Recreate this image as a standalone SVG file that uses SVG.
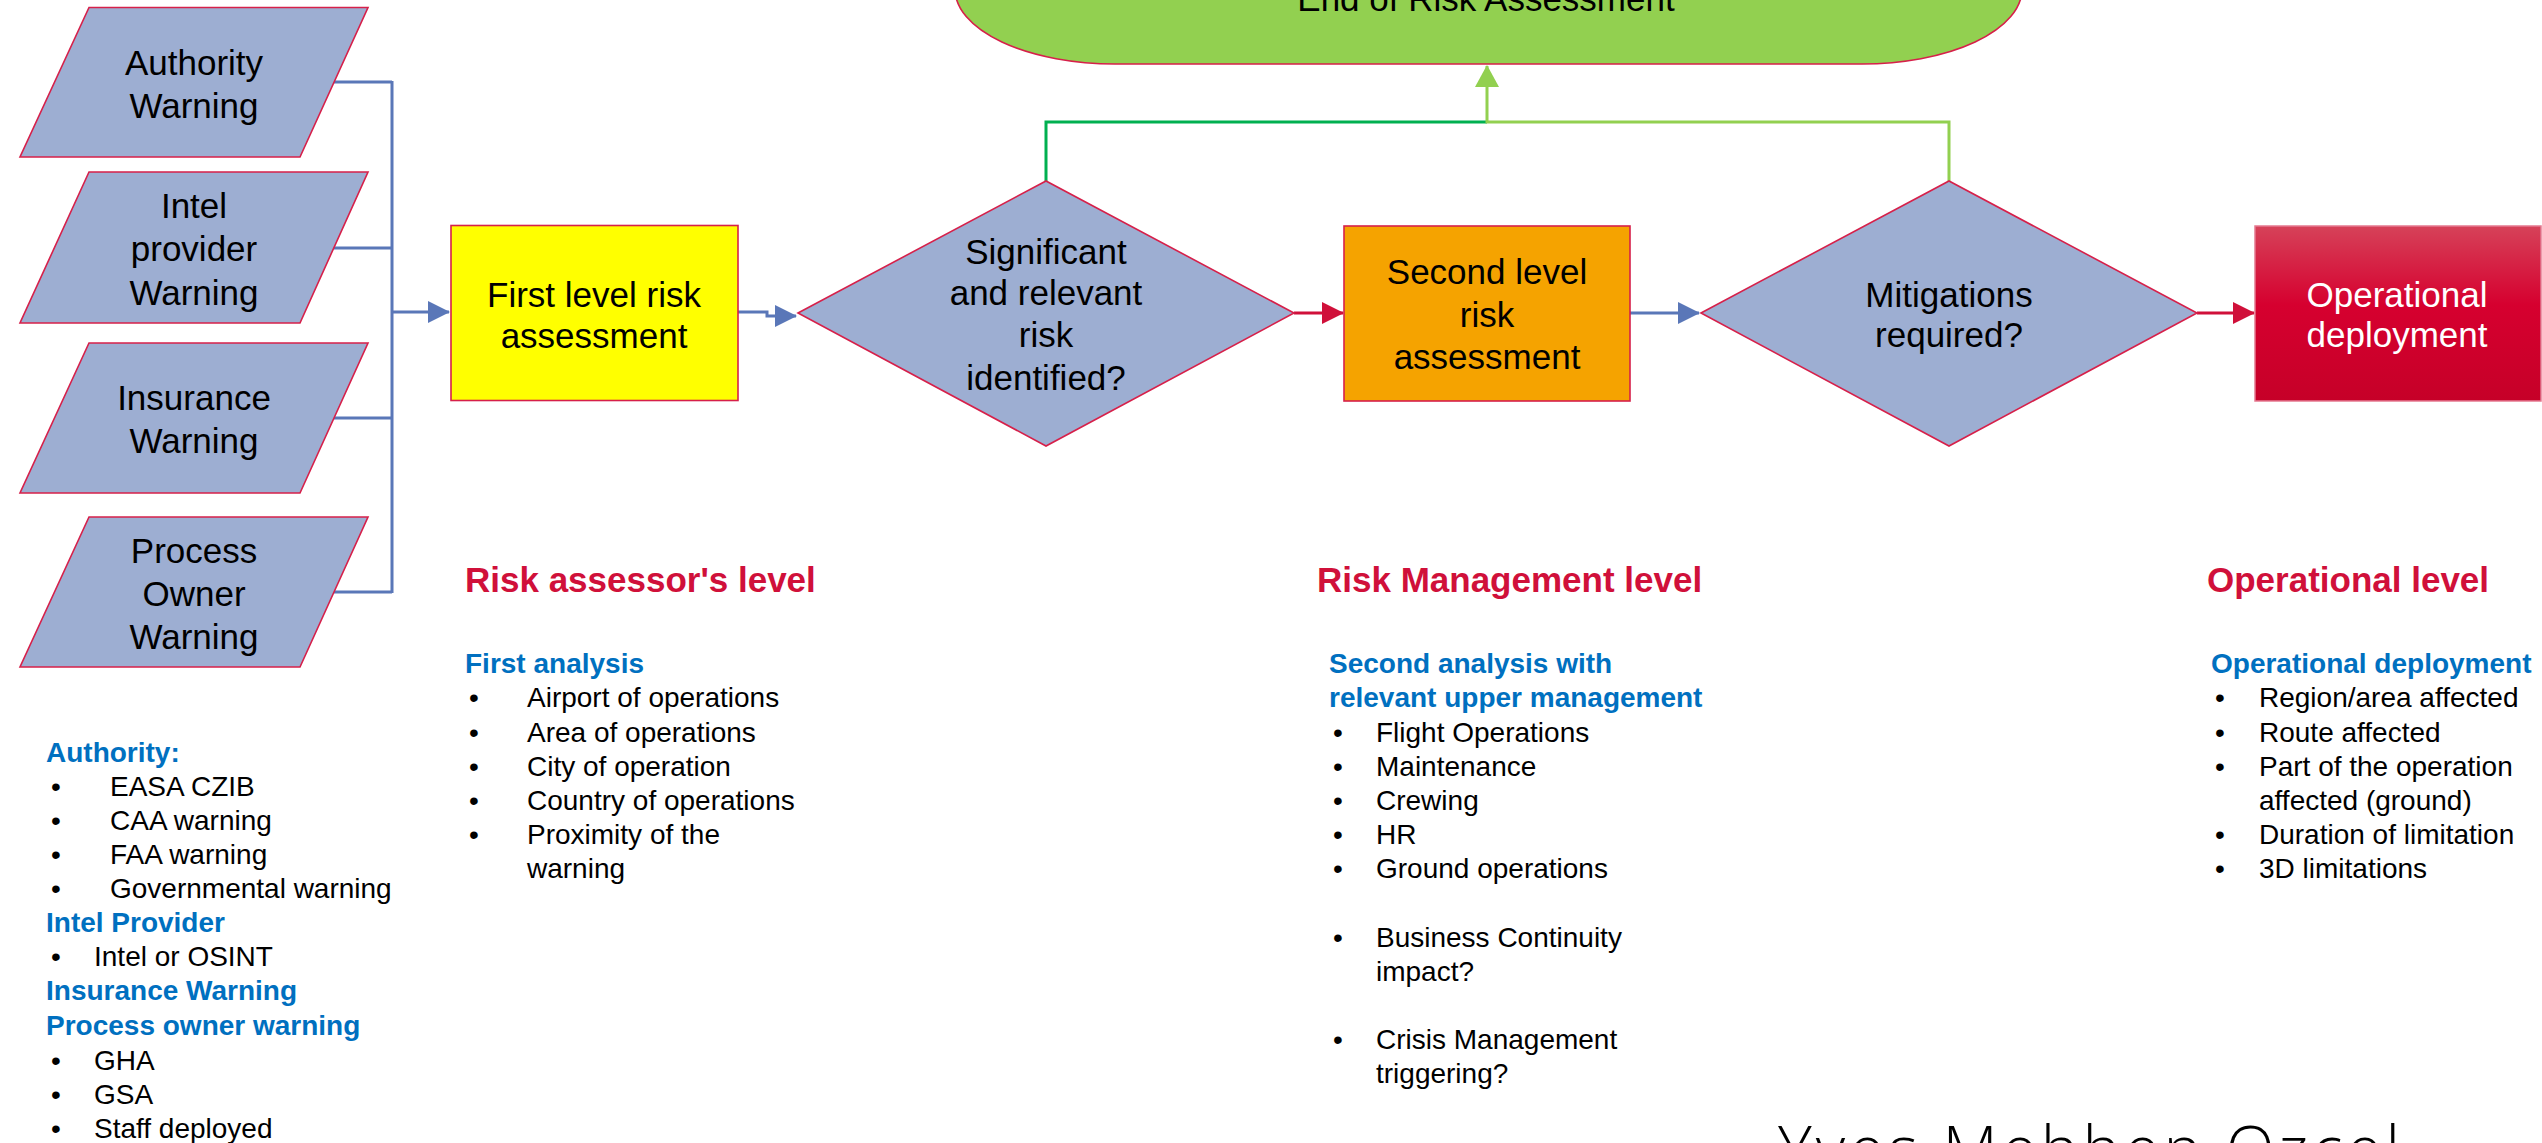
<svg xmlns="http://www.w3.org/2000/svg" width="2542" height="1143" viewBox="0 0 2542 1143">
<defs>
<style>
.node{stroke:#D6204A;stroke-width:1.6}
.para{fill:#9DAED2}
.nt{font-family:"Liberation Sans",Arial,sans-serif;font-size:35px;fill:#000;text-anchor:middle}
.wt{fill:#fff}
.hd{font-family:"Liberation Sans",Arial,sans-serif;font-size:35px;font-weight:bold;fill:#D0103A}
.sb{font-family:"Liberation Sans",Arial,sans-serif;font-size:28px;font-weight:bold;fill:#0070C0}
.li{font-family:"Liberation Sans",Arial,sans-serif;font-size:28px;fill:#000}
.cb{fill:none;stroke:#5A77B8;stroke-width:3}
.cr{fill:none;stroke:#D0103A;stroke-width:3}
.cg{fill:none;stroke:#00B050;stroke-width:3}
.cl{fill:none;stroke:#92D050;stroke-width:3}
</style>
<marker id="ab" markerUnits="userSpaceOnUse" markerWidth="22" markerHeight="22" refX="21" refY="11" orient="auto"><path d="M0,0 L22,11 L0,22 Z" fill="#5A77B8"/></marker>
<marker id="ar" markerUnits="userSpaceOnUse" markerWidth="22" markerHeight="22" refX="21" refY="11" orient="auto"><path d="M0,0 L22,11 L0,22 Z" fill="#D0103A"/></marker>
<marker id="ag" markerUnits="userSpaceOnUse" markerWidth="22" markerHeight="24" refX="21" refY="12" orient="auto"><path d="M0,0 L22,12 L0,24 Z" fill="#92D050"/></marker>
<linearGradient id="redg" x1="0" y1="0" x2="0" y2="1">
<stop offset="0" stop-color="#D64259"/>
<stop offset="0.45" stop-color="#D6002F"/>
<stop offset="1" stop-color="#C60028"/>
</linearGradient>
</defs>
<rect width="2542" height="1143" fill="#fff"/>

<g id="connectors">
<path class="cb" d="M334,82 H392 M334,248 H392 M334,418 H392 M334,592 H392 M392,81 V593"/>
<path class="cb" d="M392,312 H449" marker-end="url(#ab)"/>
<path class="cb" d="M738,312 H767 V316 H796" marker-end="url(#ab)"/>
<path class="cr" d="M1294,313 H1343" marker-end="url(#ar)"/>
<path class="cb" d="M1630,313 H1699" marker-end="url(#ab)"/>
<path class="cr" d="M2197,313 H2254" marker-end="url(#ar)"/>
<path class="cg" d="M1046,181 V122 H1487"/>
<path class="cl" d="M1949,181 V122 H1487 V66" marker-end="url(#ag)"/>
</g>

<g id="end-of-risk-assessment">
<rect class="node" x="955" y="-86" width="1067" height="150" rx="160" ry="75" fill="#92D050"/>
<text class="nt" x="1486" y="11">End of Risk Assessment</text>
</g>

<g id="authority-warning">
<polygon class="node para" points="89,7.5 368,7.5 300,157 20,157"/>
<text class="nt" x="194" y="75">Authority</text>
<text class="nt" x="194" y="118">Warning</text>
</g>
<g id="intel-provider-warning">
<polygon class="node para" points="89,172 368,172 300,323 20,323"/>
<text class="nt" x="194" y="218">Intel</text>
<text class="nt" x="194" y="261">provider</text>
<text class="nt" x="194" y="305">Warning</text>
</g>
<g id="insurance-warning">
<polygon class="node para" points="89,343 368,343 300,493 20,493"/>
<text class="nt" x="194" y="410">Insurance</text>
<text class="nt" x="194" y="453">Warning</text>
</g>
<g id="process-owner-warning">
<polygon class="node para" points="89,517 368,517 300,667 20,667"/>
<text class="nt" x="194" y="563">Process</text>
<text class="nt" x="194" y="606">Owner</text>
<text class="nt" x="194" y="649">Warning</text>
</g>

<g id="first-level">
<rect class="node" x="451" y="225.5" width="287" height="175" fill="#FFFF00"/>
<text class="nt" x="594" y="307">First level risk</text>
<text class="nt" x="594" y="348">assessment</text>
</g>
<g id="decision-significant">
<polygon class="node para" points="798,313 1046,181 1294,313 1046,446"/>
<text class="nt" x="1046" y="264">Significant</text>
<text class="nt" x="1046" y="305">and relevant</text>
<text class="nt" x="1046" y="347">risk</text>
<text class="nt" x="1046" y="390">identified?</text>
</g>
<g id="second-level">
<rect class="node" x="1344" y="226" width="286" height="175" fill="#F5A300"/>
<text class="nt" x="1487" y="284">Second level</text>
<text class="nt" x="1487" y="327">risk</text>
<text class="nt" x="1487" y="369">assessment</text>
</g>
<g id="decision-mitigations">
<polygon class="node para" points="1701,313 1949,181 2197,313 1949,446"/>
<text class="nt" x="1949" y="307">Mitigations</text>
<text class="nt" x="1949" y="347">required?</text>
</g>
<g id="operational-deployment">
<rect x="2255" y="226" width="286" height="175" fill="url(#redg)" stroke="#E57990" stroke-width="1.5"/>
<text class="nt wt" x="2397" y="307">Operational</text>
<text class="nt wt" x="2397" y="347">deployment</text>
</g>

<g id="legend-sources">
<text class="sb" x="46" y="762">Authority:</text>
<text class="li" x="51" y="796">•</text><text class="li" x="110" y="796">EASA CZIB</text>
<text class="li" x="51" y="830">•</text><text class="li" x="110" y="830">CAA warning</text>
<text class="li" x="51" y="864">•</text><text class="li" x="110" y="864">FAA warning</text>
<text class="li" x="51" y="898">•</text><text class="li" x="110" y="898">Governmental warning</text>
<text class="sb" x="46" y="932">Intel Provider</text>
<text class="li" x="51" y="966">•</text><text class="li" x="94" y="966">Intel or OSINT</text>
<text class="sb" x="46" y="1000">Insurance Warning</text>
<text class="sb" x="46" y="1035">Process owner warning</text>
<text class="li" x="51" y="1070">•</text><text class="li" x="94" y="1070">GHA</text>
<text class="li" x="51" y="1104">•</text><text class="li" x="94" y="1104">GSA</text>
<text class="li" x="51" y="1138">•</text><text class="li" x="94" y="1138">Staff deployed</text>
</g>

<g id="legend-risk-assessor">
<text class="hd" x="465" y="592">Risk assessor's level</text>
<text class="sb" x="465" y="673">First analysis</text>
<text class="li" x="469" y="707">•</text><text class="li" x="527" y="707">Airport of operations</text>
<text class="li" x="469" y="742">•</text><text class="li" x="527" y="742">Area of operations</text>
<text class="li" x="469" y="776">•</text><text class="li" x="527" y="776">City of operation</text>
<text class="li" x="469" y="810">•</text><text class="li" x="527" y="810">Country of operations</text>
<text class="li" x="469" y="844">•</text><text class="li" x="527" y="844">Proximity of the</text>
<text class="li" x="527" y="878">warning</text>
</g>

<g id="legend-risk-management">
<text class="hd" x="1317" y="592">Risk Management level</text>
<text class="sb" x="1329" y="673">Second analysis with</text>
<text class="sb" x="1329" y="707">relevant upper management</text>
<text class="li" x="1333" y="742">•</text><text class="li" x="1376" y="742">Flight Operations</text>
<text class="li" x="1333" y="776">•</text><text class="li" x="1376" y="776">Maintenance</text>
<text class="li" x="1333" y="810">•</text><text class="li" x="1376" y="810">Crewing</text>
<text class="li" x="1333" y="844">•</text><text class="li" x="1376" y="844">HR</text>
<text class="li" x="1333" y="878">•</text><text class="li" x="1376" y="878">Ground operations</text>
<text class="li" x="1333" y="947">•</text><text class="li" x="1376" y="947">Business Continuity</text>
<text class="li" x="1376" y="981">impact?</text>
<text class="li" x="1333" y="1049">•</text><text class="li" x="1376" y="1049">Crisis Management</text>
<text class="li" x="1376" y="1083">triggering?</text>
</g>

<g id="legend-operational">
<text class="hd" x="2207" y="592">Operational level</text>
<text class="sb" x="2211" y="673">Operational deployment</text>
<text class="li" x="2215" y="707">•</text><text class="li" x="2259" y="707">Region/area affected</text>
<text class="li" x="2215" y="742">•</text><text class="li" x="2259" y="742">Route affected</text>
<text class="li" x="2215" y="776">•</text><text class="li" x="2259" y="776">Part of the operation</text>
<text class="li" x="2259" y="810">affected (ground)</text>
<text class="li" x="2215" y="844">•</text><text class="li" x="2259" y="844">Duration of limitation</text>
<text class="li" x="2215" y="878">•</text><text class="li" x="2259" y="878">3D limitations</text>
</g>

<text x="1778" y="1172" font-family="'Open Sans','Liberation Sans',sans-serif" font-size="64" font-weight="300" fill="#000" textLength="622" lengthAdjust="spacing">Yves Mehhen Ozcel</text>
</svg>
